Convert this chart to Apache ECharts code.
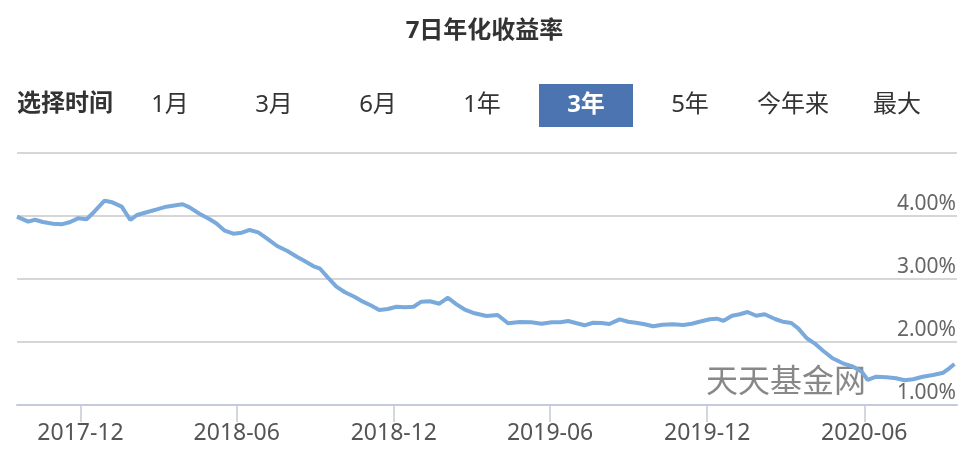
<!DOCTYPE html>
<html>
<head>
<meta charset="utf-8">
<script src="https://cdn.jsdelivr.net/npm/echarts@6/dist/echarts.min.js"></script>
<style>
html,body{margin:0;padding:0;background:#fff;}
#c{width:969px;height:461px;}
</style>
</head>
<body>
<div id="c"></div>
<script>
// ---- data ----
var titleText = '7日年化收益率';
var rangeLabel = '选择时间';
var rangeButtons = ['1月', '3月', '6月', '1年', '3年', '5年', '今年来', '最大'];
var selectedButton = '3年';
var watermarkText = '天天基金网';

var dates = [
  '2017-09-18','2017-10-01','2017-10-09','2017-10-18','2017-10-30','2017-11-09','2017-11-19','2017-11-28',
  '2017-12-08','2017-12-17','2017-12-29','2018-01-07','2018-01-18','2018-01-28','2018-02-05','2018-02-16',
  '2018-02-28','2018-03-11','2018-03-24','2018-03-30','2018-04-07','2018-04-19','2018-04-30','2018-05-08',
  '2018-05-18','2018-05-28','2018-06-07','2018-06-16','2018-06-26','2018-07-06','2018-07-18','2018-07-30',
  '2018-08-10','2018-08-19','2018-08-29','2018-09-06','2018-09-15','2018-09-25','2018-10-05','2018-10-16',
  '2018-10-26','2018-11-05','2018-11-14','2018-11-24','2018-12-04','2018-12-14','2018-12-24','2019-01-02',
  '2019-01-12','2019-01-23','2019-02-02','2019-02-12','2019-02-21','2019-03-05','2019-03-19','2019-04-01',
  '2019-04-13','2019-04-27','2019-05-10','2019-05-22','2019-06-03','2019-06-13','2019-06-22','2019-07-02',
  '2019-07-11','2019-07-21','2019-07-31','2019-08-09','2019-08-21','2019-08-31','2019-09-09','2019-09-19',
  '2019-09-29','2019-10-10','2019-10-22','2019-11-03','2019-11-13','2019-11-22','2019-12-04','2019-12-12',
  '2019-12-20','2019-12-30','2020-01-08','2020-01-17','2020-01-27','2020-02-06','2020-02-18','2020-02-27',
  '2020-03-08','2020-03-16','2020-03-26','2020-04-04','2020-04-14','2020-04-25','2020-05-07','2020-05-19',
  '2020-05-29','2020-06-05','2020-06-15','2020-06-27','2020-07-08','2020-07-18','2020-07-28','2020-08-08',
  '2020-08-20','2020-09-01','2020-09-08','2020-09-14'
];
var yields = [
  3.99, 3.91, 3.94, 3.905, 3.878, 3.868, 3.905, 3.963,
  3.948, 4.068, 4.243, 4.217, 4.148, 3.937, 4.016, 4.059,
  4.106, 4.148, 4.175, 4.186, 4.138, 4.032, 3.952, 3.884,
  3.767, 3.719, 3.735, 3.778, 3.741, 3.646, 3.524, 3.444,
  3.354, 3.286, 3.206, 3.163, 3.027, 2.878, 2.789, 2.719,
  2.640, 2.576, 2.508, 2.524, 2.560, 2.551, 2.560, 2.640,
  2.646, 2.608, 2.703, 2.598, 2.519, 2.456, 2.413, 2.429,
  2.297, 2.317, 2.313, 2.290, 2.313, 2.313, 2.333, 2.297,
  2.265, 2.306, 2.302, 2.286, 2.360, 2.322, 2.306, 2.281,
  2.249, 2.275, 2.281, 2.270, 2.290, 2.322, 2.360, 2.370,
  2.338, 2.417, 2.440, 2.476, 2.417, 2.440, 2.365, 2.322,
  2.302, 2.217, 2.059, 1.979, 1.862, 1.741, 1.662, 1.608,
  1.529, 1.397, 1.449, 1.440, 1.424, 1.392, 1.408, 1.449,
  1.476, 1.513, 1.583, 1.651
];
var xStart = '2017-09-18';
var xEnd = '2020-09-17';
var xTickDates = ['2017-12-01', '2018-06-01', '2018-12-01', '2019-06-01', '2019-12-01', '2020-06-01'];
var yMin = 1, yMax = 5, yStep = 1;

// ---- build chart ----
function ts(s) { return Date.parse(s); }
function fmtMonth(v) {
  var d = new Date(v);
  var m = d.getUTCMonth() + 1;
  return d.getUTCFullYear() + '-' + (m < 10 ? '0' + m : m);
}
var seriesData = dates.map(function (d, i) { return [ts(d), yields[i]]; });
var tickVals = xTickDates.map(ts);

var FONT = 'Noto Sans, Noto Sans CJK SC, sans-serif';
var graphics = [];
graphics.push({
  type: 'text', left: 17, top: 92,
  style: { text: rangeLabel, font: 'bold 24px ' + FONT, fill: '#333' }
});
var btnCenters = [170, 274, 378, 482, 586, 690, 793, 897];
rangeButtons.forEach(function (b, i) {
  var sel = b === selectedButton;
  if (sel) {
    graphics.push({
      type: 'rect', shape: { x: btnCenters[i] - 47, y: 84, width: 94, height: 43 },
      style: { fill: '#4b74b1' }
    });
  }
  graphics.push({
    type: 'text', x: btnCenters[i], y: 105,
    style: {
      text: b, font: (sel ? 'bold ' : '') + '24px ' + FONT,
      fill: sel ? '#fff' : '#333', align: 'center', verticalAlign: 'middle'
    }
  });
});
graphics.push({
  type: 'text', x: 786, y: 383, z: -1,
  style: { text: watermarkText, font: '32px ' + FONT, fill: 'rgba(115,115,115,0.85)', align: 'center', verticalAlign: 'middle' }
});

var chart = echarts.init(document.getElementById('c'), null, { renderer: 'canvas' });
chart.setOption({
  animation: false,
  backgroundColor: '#fff',
  title: {
    text: titleText, left: 'center', top: 14,
    textStyle: { fontSize: 24, fontWeight: 'bold', color: '#333', fontFamily: FONT }
  },
  graphic: graphics,
  grid: { left: 17, right: 12, top: 153, bottom: 56, containLabel: false },
  xAxis: {
    type: 'value',
    min: ts(xStart), max: ts(xEnd),
    axisLine: { show: true, lineStyle: { color: '#c4cbd9', width: 2 } },
    axisTick: { show: true, customValues: tickVals, length: 17, lineStyle: { color: '#c4cbd9', width: 1.5 } },
    axisLabel: {
      customValues: tickVals, formatter: fmtMonth, margin: 17,
      fontSize: 23, color: '#555', fontFamily: FONT
    },
    splitLine: { show: false }
  },
  yAxis: {
    type: 'value', position: 'right',
    min: yMin, max: yMax, interval: yStep,
    axisLine: { show: false }, axisTick: { show: false },
    axisLabel: {
      inside: true, margin: 1, showMaxLabel: false,
      formatter: function (v) { return v.toFixed(2) + '%'; },
      verticalAlign: 'bottom', lineHeight: 22, padding: [0, 0, 1, 0],
      fontSize: 21, color: '#666', fontFamily: FONT
    },
    splitLine: { show: true, lineStyle: { color: '#d6d6d6', width: 2 } }
  },
  series: [{
    type: 'line', data: seriesData, showSymbol: false, symbol: 'none',
    lineStyle: { color: '#7aa9db', width: 4 }, z: 5
  }]
});
</script>
</body>
</html>
